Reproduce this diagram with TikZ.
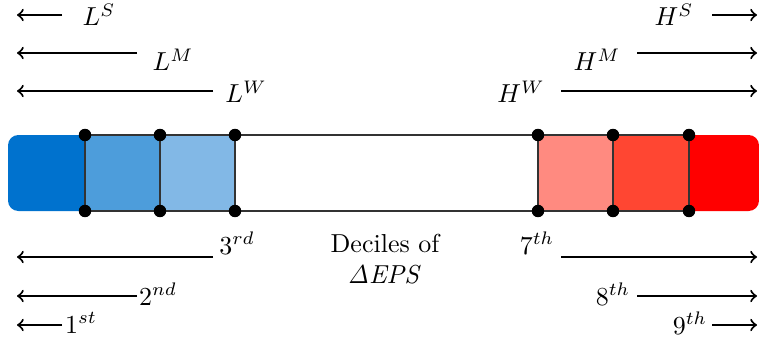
\documentclass[tikz,border=0pt]{standalone}
\usetikzlibrary{positioning}
\definecolor{blueA}{RGB}{0,114,206}
\definecolor{blueB}{RGB}{77,157,219}
\definecolor{blueC}{RGB}{130,184,230}
\definecolor{redA}{RGB}{255,138,128}
\definecolor{redB}{RGB}{255,70,50}
\definecolor{redC}{RGB}{255,0,0}
\tikzset{
  arr/.style={->, thick},
  cell/.style={draw=black!80, thin},
  dot/.style={fill=black}
}
\begin{document}
\begin{tikzpicture}[x=0.385pt,y=-0.385pt]
    \useasboundingbox (0,0) rectangle (759,339);

    % Outer end blocks (rounded)
    \fill[blueA] (85,135) [rounded corners=4pt] -- (8,135) -- (8,211) [sharp corners] -- (85,211) -- cycle;
    \fill[redC] (689,135) [rounded corners=4pt] -- (759,135) -- (759,211) [sharp corners] -- (689,211) -- cycle;

    % Inner deciles
    \fill[blueB] (85,135) rectangle (160,211);
    \fill[blueC] (160,135) rectangle (235,211);
    \fill[redA] (538,135) rectangle (613,211);
    \fill[redB] (613,135) rectangle (689,211);
    \draw[cell] (85,135) rectangle (689,211);
    \foreach \x in {160,235,538,613} {
      \draw[cell] (\x,135) -- (\x,211);
    }

    % Decile boundaries
    \foreach \x in {85,160,235,538,613,689} {
      \fill[dot] (\x,135) circle (2.4pt);
      \fill[dot] (\x,211) circle (2.4pt);
    }

    % Low portfolios
    \foreach \nm/\y/\xa in {lS/15/62, lM/53/137, lW/91/213} {
      \coordinate (\nm a) at (17,\y);
      \coordinate (\nm b) at (\xa,\y);
      \draw[arr] (\nm b) -- (\nm a);
    }
    \node (lS) at (99,15) {$L^S$};
    \node (lM) at (173,60) {$L^M$};
    \node (lW) at (246,92) {$L^W$};

    % High portfolios
    \foreach \nm/\y/\xa in {hS/15/712, hM/53/637, hW/91/561} {
      \coordinate (\nm a) at (\xa,\y);
      \coordinate (\nm b) at (757,\y);
      \draw[arr] (\nm a) -- (\nm b);
    }
    \node (hS) at (674,15) {$H^S$};
    \node (hM) at (597,60) {$H^M$};
    \node (hW) at (521,92) {$H^W$};

    % Lower deciles
    \foreach \nm/\y/\xa in {d3/257/213, d2/296/137, d1/325/62} {
      \coordinate (\nm a) at (17,\y);
      \coordinate (\nm b) at (\xa,\y);
      \draw[arr] (\nm b) -- (\nm a);
    }
    \node (d3) at (237,243) {$3^{rd}$};
    \node (d2) at (158,294) {$2^{nd}$};
    \node (d1) at (81,323) {$1^{st}$};

    % Upper deciles
    \foreach \nm/\y/\xa in {d7/257/561, d8/296/637, d9/325/712} {
      \coordinate (\nm a) at (\xa,\y);
      \coordinate (\nm b) at (757,\y);
      \draw[arr] (\nm a) -- (\nm b);
    }
    \node (d7) at (537,243) {$7^{th}$};
    \node (d8) at (613,294) {$8^{th}$};
    \node (d9) at (690,323) {$9^{th}$};

    % Caption
    \node[align=center, inner sep=0pt] (deciles) at (385,259) {Deciles of\\$\mathit{\Delta EPS}$};
\end{tikzpicture}
\end{document}
